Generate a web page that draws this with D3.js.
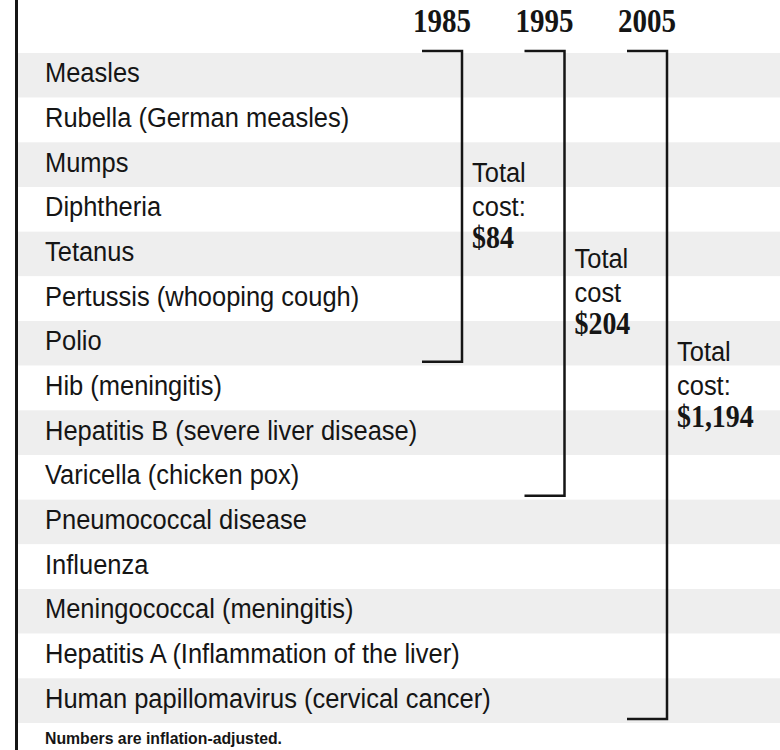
<!DOCTYPE html>
<html>
<head>
<meta charset="utf-8">
<script src="https://cdn.jsdelivr.net/npm/d3@7"></script>
<style>
  html, body { margin: 0; padding: 0; background: #fff; }
  svg { display: block; }
</style>
</head>
<body>
<div id="chart"></div>
<script>
// vaccines recommended, in the order listed
var vaccines = [
  "Measles",
  "Rubella (German measles)",
  "Mumps",
  "Diphtheria",
  "Tetanus",
  "Pertussis (whooping cough)",
  "Polio",
  "Hib (meningitis)",
  "Hepatitis B (severe liver disease)",
  "Varicella (chicken pox)",
  "Pneumococcal disease",
  "Influenza",
  "Meningococcal (meningitis)",
  "Hepatitis A (Inflammation of the liver)",
  "Human papillomavirus (cervical cancer)"
];
var years = [1985, 1995, 2005];
// how many of the vaccines above were on the schedule that year
var vaccineCount = [7, 10, 15];
var costWords = ["cost:", "cost", "cost:"];
var totals = ["$84", "$204", "$1,194"];
var note = "Numbers are inflation-adjusted.";

var width = 780, height = 750;
var svg = d3.select("#chart").append("svg")
  .attr("width", width).attr("height", height);

// rows
var y = d3.scaleBand().domain(vaccines).range([53, 723]).padding(0);
// bracket positions by year
var x = d3.scaleLinear().domain([1985, 2005]).range([462, 667]);

var sans = "'Liberation Sans', Arial, sans-serif";
var serif = "'Liberation Serif', 'Times New Roman', serif";
var ink = "#151515";
var squeeze = 0.91;

// striped rows
svg.append("g").selectAll("rect")
  .data(vaccines)
  .enter().append("rect")
  .attr("x", 18)
  .attr("y", function(d) { return y(d); })
  .attr("width", width - 18)
  .attr("height", y.bandwidth())
  .attr("fill", function(d, i) { return i % 2 === 0 ? "#eeeeee" : "#ffffff"; });

// left rule
svg.append("line")
  .attr("x1", 16.5).attr("x2", 16.5)
  .attr("y1", 0).attr("y2", height)
  .attr("stroke", ink).attr("stroke-width", 3);

// vaccine names
svg.append("g").selectAll("text")
  .data(vaccines)
  .enter().append("text")
  .attr("transform", function(d) {
    return "translate(45," + (y(d) + y.bandwidth() / 2 + 7) + ") scale(" + squeeze + ",1)";
  })
  .attr("font-family", sans)
  .attr("font-size", 28)
  .attr("fill", ink)
  .text(function(d) { return d; });

// brackets and totals
var brackets = svg.append("g").selectAll("g")
  .data(years)
  .enter().append("g");

var bracketTop = 51;
function bottomOf(i) {
  return y(vaccines[vaccineCount[i] - 1]) + y.bandwidth() - 4;
}

brackets.append("path")
  .attr("d", function(d, i) {
    var bx = x(d), b = bottomOf(i);
    return "M" + (bx - 40) + "," + bracketTop + "H" + bx + "V" + b + "H" + (bx - 40);
  })
  .attr("fill", "none")
  .attr("stroke", ink)
  .attr("stroke-width", 2.5);

// year heads
brackets.append("text")
  .attr("transform", function(d) { return "translate(" + (x(d) - 20) + ",32) scale(0.88,1)"; })
  .attr("text-anchor", "middle")
  .attr("font-family", serif)
  .attr("font-weight", "bold")
  .attr("font-size", 33)
  .attr("fill", ink)
  .text(function(d) { return d; });

// 1995 label sits a bit lower than the bracket middle
var nudge = [0, 19, 0];
brackets.each(function(d, i) {
  var g = d3.select(this);
  var mid = (bracketTop + bottomOf(i)) / 2 + nudge[i];
  var tx = x(d) + 10;
  g.append("text")
    .attr("transform", "translate(" + tx + "," + (mid - 24) + ") scale(" + squeeze + ",1)")
    .attr("font-family", sans).attr("font-size", 28).attr("fill", ink)
    .text("Total");
  g.append("text")
    .attr("transform", "translate(" + tx + "," + (mid + 10) + ") scale(" + squeeze + ",1)")
    .attr("font-family", sans).attr("font-size", 28).attr("fill", ink)
    .text(costWords[i]);
  g.append("text")
    .attr("transform", "translate(" + tx + "," + (mid + 42) + ") scale(0.9,1)")
    .attr("font-family", serif).attr("font-weight", "bold").attr("font-size", 31).attr("fill", ink)
    .text(totals[i]);
});

// footnote
svg.append("text")
  .attr("x", 45).attr("y", 744)
  .attr("font-family", sans)
  .attr("font-weight", "bold")
  .attr("font-size", 17)
  .attr("textLength", 237)
  .attr("lengthAdjust", "spacingAndGlyphs")
  .attr("fill", ink)
  .text(note);
</script>
</body>
</html>
